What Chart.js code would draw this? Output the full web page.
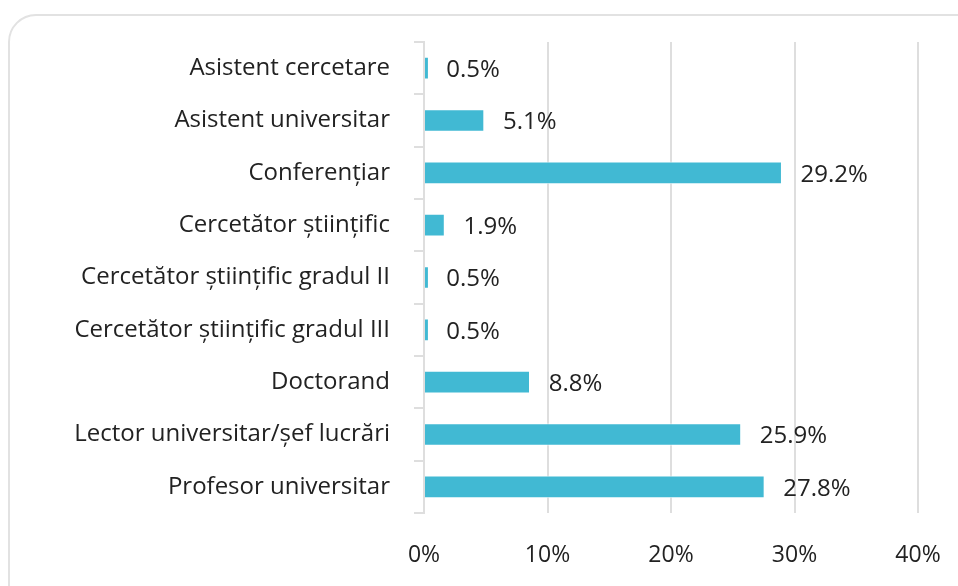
<!DOCTYPE html>
<html>
<head>
<meta charset="utf-8">
<script src="https://cdn.jsdelivr.net/npm/chart.js@4"></script>
<style>
  html, body { margin: 0; padding: 0; background: #fff; overflow: hidden; }
  #frame { position: absolute; left: 8px; top: 14px; width: 990px; height: 610px;
           border: 2px solid #e2e2e2; border-radius: 28px; box-sizing: border-box; }
  #c { position: absolute; left: 0; top: 0; }
</style>
</head>
<body>
<div id="frame"></div>
<canvas id="c" width="958" height="586"></canvas>
<script>
const categories = [
  "Asistent cercetare",
  "Asistent universitar",
  "Conferențiar",
  "Cercetător științific",
  "Cercetător științific gradul II",
  "Cercetător științific gradul III",
  "Doctorand",
  "Lector universitar/șef lucrări",
  "Profesor universitar"
];
const values = [0.5, 5.1, 29.2, 1.9, 0.5, 0.5, 8.8, 25.9, 27.8];
const valueLabels = ["0.5%", "5.1%", "29.2%", "1.9%", "0.5%", "0.5%", "8.8%", "25.9%", "27.8%"];
const xMin = 0, xMax = 40, xStep = 10;

const FONT = "'Open Sans', 'Noto Sans', sans-serif";
const TEXT = "#222222";
const GRID = "#dedede";

const valueLabelPlugin = {
  id: 'valueLabels',
  afterDatasetsDraw(chart) {
    const ctx = chart.ctx;
    const meta = chart.getDatasetMeta(0);
    ctx.save();
    ctx.font = "24px " + FONT;
    ctx.fillStyle = TEXT;
    ctx.textAlign = 'left';
    ctx.textBaseline = 'middle';
    meta.data.forEach((bar, i) => {
      ctx.fillText(valueLabels[i], bar.x + 16, bar.y + 2);
    });
    ctx.restore();
  }
};

new Chart(document.getElementById('c'), {
  type: 'bar',
  data: {
    labels: categories,
    datasets: [{
      data: values,
      backgroundColor: '#41b9d3',
      borderColor: 'rgba(255,255,255,0.6)',
      borderWidth: { top: 1, bottom: 1, right: 4, left: 0 },
      barThickness: 22
    }]
  },
  plugins: [valueLabelPlugin],
  options: {
    indexAxis: 'y',
    responsive: false,
    devicePixelRatio: 1,
    animation: false,
    layout: { padding: { top: 42, right: 40, left: 0, bottom: 0 } },
    plugins: { legend: { display: false }, tooltip: { enabled: false } },
    scales: {
      x: {
        min: xMin, max: xMax,
        ticks: {
          stepSize: xStep,
          callback: v => v + '%',
          color: TEXT,
          font: { family: FONT, size: 23 },
          padding: 0,
          maxRotation: 0
        },
        grid: { color: GRID, lineWidth: 2, drawTicks: true, tickLength: 29, tickColor: 'rgba(0,0,0,0)' },
        border: { display: false },
        afterFit(scale) { scale.height = 73; }
      },
      y: {
        ticks: {
          color: TEXT,
          font: { family: FONT, size: 24 },
          padding: 24,
          autoSkip: false
        },
        grid: { drawOnChartArea: false, color: GRID, lineWidth: 2, tickLength: 10, offset: true },
        border: { display: true, color: GRID, width: 2 },
        afterFit(scale) { scale.width = 424; }
      }
    }
  }
});
</script>
</body>
</html>
